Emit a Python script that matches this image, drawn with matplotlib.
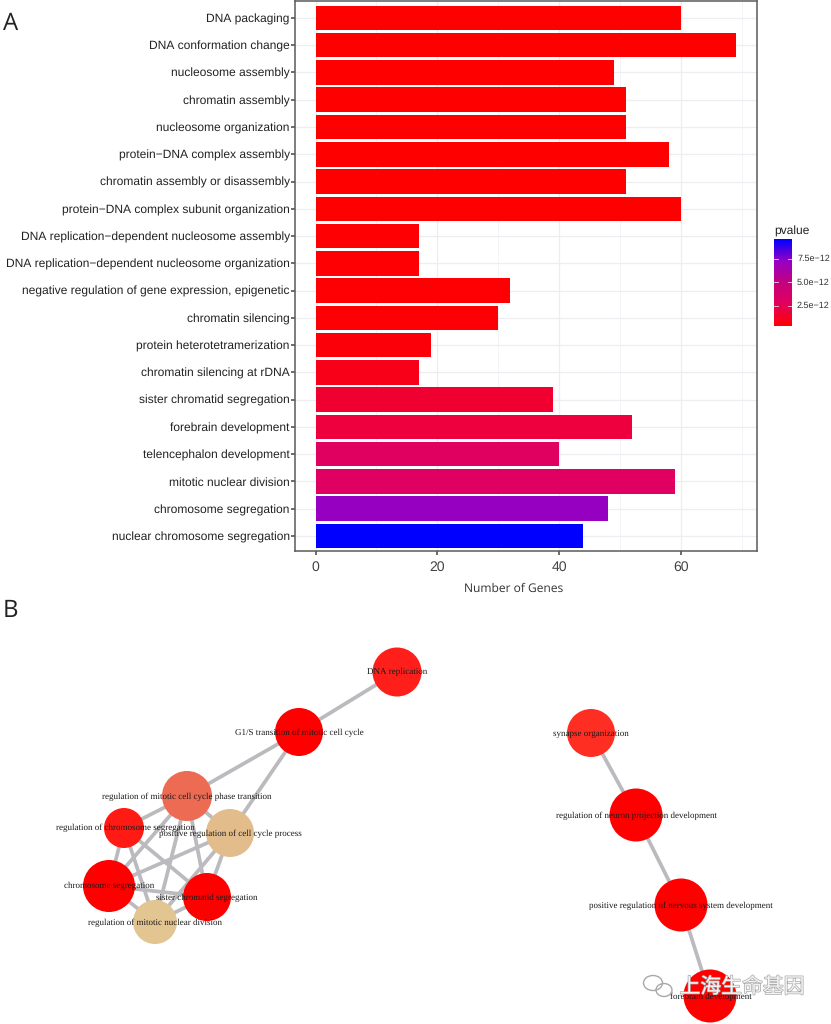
import numpy as np
import matplotlib
matplotlib.use("Agg")
import matplotlib.pyplot as plt
import matplotlib.patheffects as pe
from matplotlib.colors import LinearSegmentedColormap, Normalize
from matplotlib.patches import Circle, Ellipse

plt.rcParams["text.hinting"] = "none"
plt.rcParams["text.hinting_factor"] = 1

categories = ["DNA packaging", "DNA conformation change", "nucleosome assembly", "chromatin assembly",
              "nucleosome organization", "protein\u2212DNA complex assembly", "chromatin assembly or disassembly",
              "protein\u2212DNA complex subunit organization", "DNA replication\u2212dependent nucleosome assembly",
              "DNA replication\u2212dependent nucleosome organization", "negative regulation of gene expression, epigenetic",
              "chromatin silencing", "protein heterotetramerization", "chromatin silencing at rDNA",
              "sister chromatid segregation", "forebrain development", "telencephalon development",
              "mitotic nuclear division", "chromosome segregation", "nuclear chromosome segregation"]
gene_counts = [60, 69, 49, 51, 51, 58, 51, 60, 17, 17, 32, 30, 19, 17, 39, 52, 40, 59, 48, 44]
pvalues = [0.37e-12, 0.37e-12, 0.38e-12, 0.4e-12, 0.4e-12, 0.4e-12, 0.42e-12, 0.42e-12, 0.45e-12, 0.45e-12,
           0.5e-12, 0.55e-12, 0.6e-12, 0.95e-12, 1.6e-12, 1.9e-12, 2.9e-12, 3.0e-12, 7.2e-12, 9.63e-12]
x_ticks = [0, 20, 40, 60]
x_minor = [10, 30, 50, 70]
legend_ticks = [2.5e-12, 5.0e-12, 7.5e-12]
legend_labels = ["2.5e\u221212", "5.0e\u221212", "7.5e\u221212"]

node_names = ["DNA replication", "G1/S transition of mitotic cell cycle",
              "regulation of mitotic cell cycle phase transition", "regulation of chromosome segregation",
              "positive regulation of cell cycle process", "chromosome segregation", "sister chromatid segregation",
              "regulation of mitotic nuclear division", "synapse organization",
              "regulation of neuron projection development", "positive regulation of nervous system development",
              "forebrain development"]
node_x = [397, 299, 187, 124, 230, 109, 207, 155, 591, 636, 681, 710]
node_y = [672, 732, 796, 828, 833, 886, 897, 922, 733, 815, 905, 996]
node_r = [24.5, 24, 25, 20, 24, 26, 24, 22, 24, 26.5, 26.5, 26.5]
node_col = ["#FF1F1A", "#FF0000", "#EC6B52", "#FF1A14", "#E3BC8C", "#FF0000", "#FF0000", "#E3C592",
            "#FF2E22", "#FF0000", "#FF0000", "#FF0000"]
label_x = [397, 299, 187, 125, 230, 109, 207, 155, 591, 636, 681, 711]
label_y = [672, 732.5, 796.5, 828, 834, 886, 898, 923, 733.5, 815.5, 906, 997]
edges = [(0, 1), (1, 2), (1, 4), (2, 3), (2, 4), (2, 5), (2, 6), (2, 7), (3, 5), (3, 6), (3, 7), (4, 5), (4, 6),
         (4, 7), (5, 6), (5, 7), (6, 7), (8, 9), (9, 10), (10, 11)]

W, H = 831, 1024
fig = plt.figure(figsize=(W / 100, H / 100), dpi=100, facecolor="white")


def axes_px(x0, y0, x1, y1, **kw):
    return fig.add_axes([x0 / W, 1 - y1 / H, (x1 - x0) / W, (y1 - y0) / H], **kw)


# lab-like red to blue gradient
cmap = LinearSegmentedColormap.from_list("rb", ["#FF0000", "#E3005C", "#C4007F", "#9400C4", "#0000FF"])
norm = Normalize(0.37e-12, 9.63e-12)

ax = axes_px(295, 1, 757, 551)
ypos = np.arange(len(categories))
ax.set_axisbelow(True)
ax.set_xticks(x_ticks)
ax.set_xticks(x_minor, minor=True)
ax.grid(True, which="major", color="#EDEDF2", lw=0.9)
ax.grid(True, which="minor", axis="x", color="#F4F4F8", lw=0.7)
ax.barh(ypos, gene_counts, height=0.9, color=cmap(norm(pvalues)), edgecolor="none")
ax.set_xlim(-3.37, 72.5)
ax.set_ylim(len(categories) - 0.45, -0.62)
ax.set_yticks(ypos, categories, fontsize=8.95, family="Liberation Sans", color="#222222")
ax.tick_params(axis="y", which="major", length=3.2, width=1.1, color="#444444", pad=0.6)
ax.tick_params(axis="x", which="major", length=3.2, width=1.1, color="#444444", pad=3.5, labelsize=9.8, labelcolor="#444444")
ax.tick_params(axis="x", which="minor", length=0)
for t in ax.get_xticklabels():
    t.set_family("Liberation Sans")
for s in ax.spines.values():
    s.set_color("#5A5A5A")
    s.set_linewidth(1.1)
fig.text(464 / W, 1 - 589 / H, "Number of Genes", fontsize=8.75, family="Open Sans", color="#333333",
         ha="left", va="center")

# legend
cax = axes_px(774, 239, 792, 326)
grad = np.linspace(norm.vmax, norm.vmin, 256).reshape(-1, 1)
cax.imshow(grad, aspect="auto", cmap=cmap, norm=norm, extent=[0, 1, norm.vmin, norm.vmax])
cax.set_xticks([])
cax.set_yticks([])
for s in cax.spines.values():
    s.set_visible(False)
for v, lab in zip(legend_ticks, legend_labels):
    cax.plot([0, 0.2], [v, v], color="white", lw=0.6, alpha=0.8)
    cax.plot([0.8, 1], [v, v], color="white", lw=0.6, alpha=0.8)
    cax.text(1.28, v, lab, fontsize=6.8, family="Liberation Sans", color="#333333", va="center", ha="left", clip_on=False)
cax.set_xlim(0, 1)
cax.set_ylim(norm.vmin, norm.vmax)
fig.text(774 / W, 1 - 231 / H, "pvalue", fontsize=8.6, family="Liberation Sans", color="#222222", ha="left", va="center")

# panel letters
fig.text(3 / W, 1 - 24 / H, "A", fontsize=17, family="Open Sans", color="#222222", ha="left", va="center")
fig.text(3 / W, 1 - 611 / H, "B", fontsize=17, family="Open Sans", color="#222222", ha="left", va="center")

# network
net = fig.add_axes([0, 0, 1, 1], facecolor="none")
net.set_xlim(0, W)
net.set_ylim(H, 0)
net.axis("off")
for a, b in edges:
    net.plot([node_x[a], node_x[b]], [node_y[a], node_y[b]], color="#BBBBBF", lw=2.7, solid_capstyle="round", zorder=1)
for x, y, r, c in zip(node_x, node_y, node_r, node_col):
    net.add_patch(Circle((x, y), r, facecolor=c, edgecolor="none", zorder=2))
for x, y, name in zip(label_x, label_y, node_names):
    net.text(x, y, name, fontsize=6.5, family="Liberation Serif", color="#1A1A1A", ha="center", va="center", zorder=3)

# watermark
halo = [pe.withStroke(linewidth=1.0, foreground="#A8A8A8")]
net.text(742, 987, "\u4e0a\u6d77\u751f\u547d\u57fa\u56e0", fontsize=15, family="Noto Sans CJK SC", color="#F4F4F4",
         ha="center", va="center", zorder=5, path_effects=halo)
net.add_patch(Ellipse((653, 983), 19, 15, facecolor="none", edgecolor="#A8A8A8", lw=1, zorder=5))
net.add_patch(Ellipse((664, 990), 16, 13, facecolor="none", edgecolor="#A8A8A8", lw=1, zorder=5))

fig.savefig("out.png", dpi=100, facecolor="white")
